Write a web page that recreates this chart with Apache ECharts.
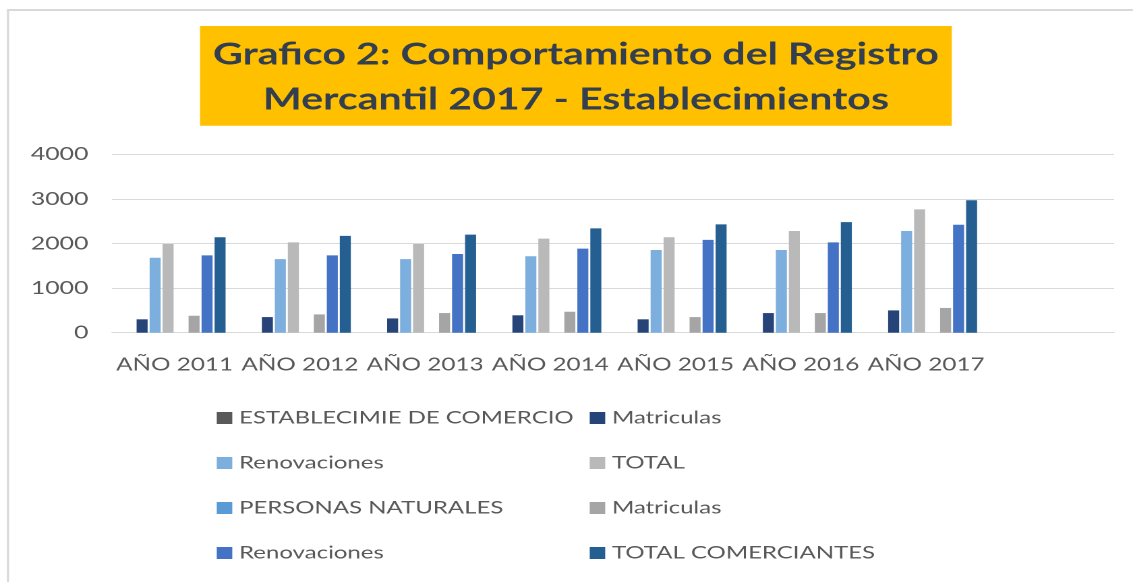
<!DOCTYPE html>
<html>
<head>
<meta charset="utf-8">
<script src="https://cdn.jsdelivr.net/npm/echarts@6/dist/echarts.min.js"></script>
<style>
  html, body { margin: 0; padding: 0; background: #ffffff; overflow: hidden; }
  #wrap { width: 1133px; height: 582px; overflow: hidden; }
  #chart { width: 840px; height: 582px; transform: scaleX(1.348810); transform-origin: 0 0; }
</style>
</head>
<body>
<div id="wrap"><div id="chart"></div></div>
<script>
// ---- data ----
const categories = ['AÑO 2011', 'AÑO 2012', 'AÑO 2013', 'AÑO 2014', 'AÑO 2015', 'AÑO 2016', 'AÑO 2017', ''];
const yTicks = { min: 0, max: 4000, interval: 1000 };

const establecimientosComercio = [null, null, null, null, null, null, null];
const matriculasEstab = [300, 350, 320, 390, 300, 440, 500];
const renovacionesEstab = [1680, 1650, 1650, 1715, 1855, 1855, 2280];
const totalEstab = [1990, 2025, 1990, 2110, 2140, 2280, 2765];
const personasNaturales = [null, null, null, null, null, null, null];
const matriculasPersonas = [380, 410, 440, 470, 350, 440, 555];
const renovacionesPersonas = [1735, 1735, 1765, 1885, 2080, 2025, 2420];
const totalComerciantes = [2140, 2170, 2200, 2340, 2430, 2480, 2970];

const seriesKeys = ['s0', 's1', 's2', 's3', 's4', 's5', 's6', 's7'];
const seriesLabels = ['ESTABLECIMIE DE COMERCIO', 'Matriculas', 'Renovaciones', 'TOTAL',
                      'PERSONAS NATURALES', 'Matriculas', 'Renovaciones', 'TOTAL COMERCIANTES'];
const seriesData = [establecimientosComercio, matriculasEstab, renovacionesEstab, totalEstab,
                    personasNaturales, matriculasPersonas, renovacionesPersonas, totalComerciantes];
const seriesColors = ['#595959', '#264478', '#7cafdd', '#b9b9b9', '#5b9bd5', '#a5a5a5', '#4472c4', '#255e91'];

const titleText = 'Grafico 2: Comportamiento del Registro\nMercantil 2017 - Establecimientos';

// ---- chart ----
const chart = echarts.init(document.getElementById('chart'), null, { renderer: 'canvas', devicePixelRatio: 2 });
const labelOf = (k) => seriesLabels[seriesKeys.indexOf(k)];
const FONT = 'Lato, "Open Sans", sans-serif';

const legendBase = {
  orient: 'vertical', padding: 0, itemGap: 25, itemWidth: 11.5, itemHeight: 12,
  icon: 'rect', selectedMode: false, formatter: labelOf,
  textStyle: { fontFamily: FONT, fontSize: 17.8, color: '#595959', lineHeight: 20 }
};

const option = {
  backgroundColor: '#ffffff',
  animation: false,
  title: {
    text: titleText, left: 427, top: 32, textAlign: 'center', padding: 0, z: 10,
    textStyle: { fontFamily: FONT, fontWeight: 'bold', fontSize: 30.5, color: '#333f4f', lineHeight: 45 }
  },
  graphic: [
    { type: 'rect', z: 1, shape: { x: 148.3, y: 26, width: 557.3, height: 99.7 }, style: { fill: '#ffc000' } },
    { type: 'line', z: 1, shape: { x1: 5.9, y1: 10, x2: 5.9, y2: 582 }, style: { stroke: '#d9d9d9', lineWidth: 1.6 } },
    { type: 'line', z: 1, shape: { x1: 5.2, y1: 10, x2: 840, y2: 10 }, style: { stroke: '#d9d9d9', lineWidth: 2 } }
  ],
  legend: [
    Object.assign({}, legendBase, { left: 160.7, top: 408, data: [seriesKeys[0], seriesKeys[2], seriesKeys[4], seriesKeys[6]] }),
    Object.assign({}, legendBase, { left: 437.2, top: 408, data: [seriesKeys[1], seriesKeys[3], seriesKeys[5], seriesKeys[7]] })
  ],
  grid: { left: 83, right: 14.1, top: 154.3, bottom: 249.3, containLabel: false },
  xAxis: {
    type: 'category', data: categories,
    axisLine: { show: true, lineStyle: { color: '#d9d9d9', width: 1 } },
    axisTick: { show: false },
    axisLabel: { interval: 0, margin: 23, fontFamily: FONT, fontSize: 18, color: '#595959' },
    splitLine: { show: false }
  },
  yAxis: {
    type: 'value', min: yTicks.min, max: yTicks.max, interval: yTicks.interval,
    axisLine: { show: false }, axisTick: { show: false },
    axisLabel: { margin: 17.5, fontFamily: FONT, fontSize: 18.4, color: '#595959', formatter: (v) => String(v) },
    splitLine: { lineStyle: { color: '#d9d9d9', width: 1 } }
  },
  series: seriesKeys.map((k, i) => ({
    name: k, type: 'bar', data: seriesData[i],
    barGap: '18%', barCategoryGap: '18.6%',
    itemStyle: { color: seriesColors[i] }
  }))
};
chart.setOption(option);
</script>
</body>
</html>
